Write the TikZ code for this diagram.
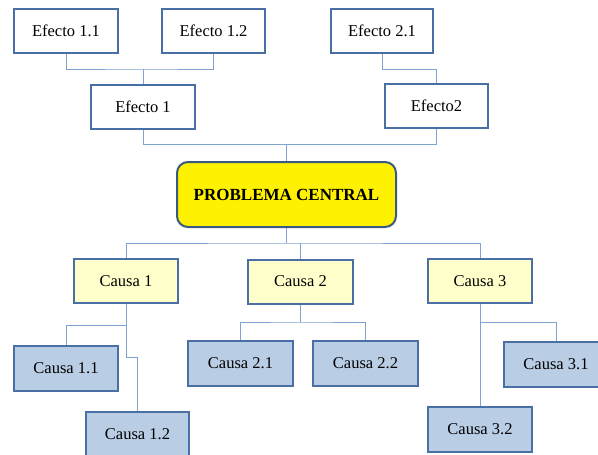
\documentclass[tikz,border=0pt]{standalone}
\usepackage{fontspec}
\setmainfont{Liberation Serif}
\definecolor{boxblue}{HTML}{4A6FA5}
\definecolor{linkblue}{HTML}{7FA3D3}
\definecolor{pcborder}{HTML}{3B5A82}
\definecolor{causefill}{HTML}{FFFFCC}
\definecolor{subfill}{HTML}{B9CDE5}
\begin{document}
\begin{tikzpicture}[x=1pt,y=-1pt,
  basebox/.style={draw=boxblue,line width=2pt,minimum width=104pt,minimum height=44pt,inner sep=0pt,font=\fontsize{16.5}{18}\selectfont},
  effbox/.style={basebox,fill=white},
  causebox/.style={basebox,fill=causefill},
  subbox/.style={basebox,fill=subfill,minimum height=45pt},
  pcbox/.style={draw=pcborder,line width=2pt,fill=yellow,rounded corners=11pt,minimum width=219pt,minimum height=65pt,inner sep=0pt,font=\fontsize{17}{19}\selectfont\bfseries},
  link/.style={draw=linkblue,line width=1pt}]
\useasboundingbox (0,0) rectangle (598,455);
% effects
\node[effbox] (e11) at (66,31) {Efecto 1.1};
\node[effbox,minimum width=103pt] (e12) at (213.5,31) {Efecto 1.2};
\node[effbox] (e1) at (143,107) {Efecto 1};
\node[effbox,minimum width=102pt] (e21) at (382,31) {Efecto 2.1};
\node[effbox,minimum width=103pt] (e2) at (436.5,106) {Efecto2};
% central problem
\node[pcbox] (pc) at (286.5,194.5) {PROBLEMA CENTRAL};
% causes
\node[causebox] (c1) at (126,281) {Causa 1};
\node[causebox,minimum width=105pt] (c2) at (300.5,281.5) {Causa 2};
\node[causebox] (c3) at (480,281) {Causa 3};
% sub causes
\node[subbox] (c11) at (66,368) {Causa 1.1};
\node[subbox,minimum width=103pt] (c12) at (137.5,434) {Causa 1.2};
\node[subbox,minimum width=105pt] (c21) at (240.5,363.5) {Causa 2.1};
\node[subbox,minimum width=105pt] (c22) at (365.5,363.5) {Causa 2.2};
\node[subbox] (c31) at (556,364) {Causa 3.1};
\node[subbox] (c32) at (480,429) {Causa 3.2};
% connectors
\path[link] (e11.south) |- (e1.north |- 0,69) -| (e12.south);
\path[link] (e1.north) -- (e1.north |- 0,69);
\path[link] (e21.south) |- (e2.north |- 0,69) -- (e2.north);
\path[link] (e1.south) |- (pc.north |- 0,144.5) -| (e2.south);
\path[link] (pc.north) -- (pc.north |- 0,144.5);
\path[link] (c1.north) |- (pc.south |- 0,243) -| (c3.north);
\path[link] (pc.south) -- (pc.south |- 0,243);
\path[link] (c2.north) -- (c2.north |- 0,243);
\path[link] (c11.north) |- (c1.south |- 0,325) -- (c1.south);
\path[link] (c1.south) |- (c12.north |- 0,357) -- (c12.north);
\path[link] (c21.north) |- (c2.south |- 0,322) -| (c22.north);
\path[link] (c2.south) -- (c2.south |- 0,322);
\path[link] (c3.south) -- (c32.north);
\path[link] (c3.south |- 0,322) -| (c31.north);
\end{tikzpicture}
\end{document}
